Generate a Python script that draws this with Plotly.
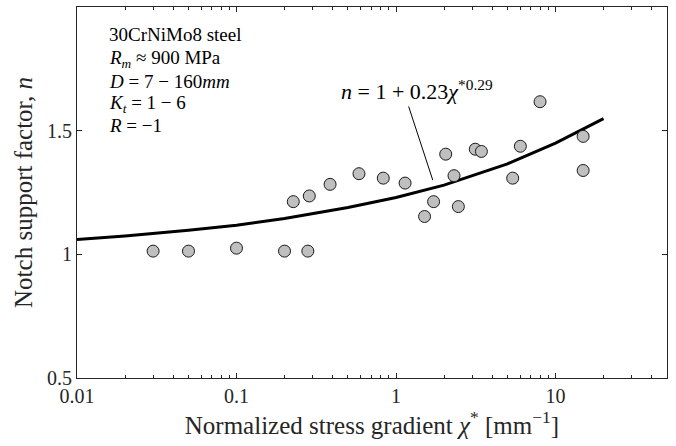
import plotly.graph_objects as go
import math

# Experimental data (normalized stress gradient vs notch support factor)
chi = [0.03, 0.05, 0.10, 0.20, 0.28, 0.227, 0.286, 0.386, 0.586, 0.832, 1.14,
       2.05, 2.31, 3.14, 3.43, 6.02, 5.39, 8.0, 14.9, 14.9, 1.72, 2.46, 1.51]
n_val = [1.013, 1.013, 1.025, 1.013, 1.013, 1.213, 1.236, 1.283, 1.326, 1.308, 1.288,
         1.405, 1.318, 1.425, 1.416, 1.437, 1.308, 1.617, 1.477, 1.339, 1.213, 1.193, 1.153]

# Fitted curve
fit_x = [0.01, 0.02, 0.05, 0.1, 0.2, 0.5, 1, 2, 5, 10, 20]
fit_y = [1.060, 1.074, 1.097, 1.118, 1.145, 1.189, 1.230, 1.280, 1.366, 1.450, 1.549]

x_tickvals = [0.01, 0.1, 1, 10, 50]
x_ticktext = ["0.01", "0.1", "1", "10", "50"]
x_minor = [0.02, 0.03, 0.04, 0.05, 0.06, 0.07, 0.08, 0.09,
           0.2, 0.3, 0.4, 0.5, 0.6, 0.7, 0.8, 0.9,
           2, 3, 4, 5, 6, 7, 8, 9, 20, 30, 40]
y_tickvals = [0.5, 1, 1.5, 2]
y_ticktext = ["0.5", "1", "1.5", "2"]

info_lines = [
    "30CrNiMo8 steel",
    "<i>R</i><sub><i>m</i></sub> ≈ 900 MPa",
    "<i>D</i> = 7 − 160<i>mm</i>",
    "<i>K</i><sub><i>t</i></sub> = 1 − 6",
    "<i>R</i> = −1",
]
info_y_px = [35, 59, 82, 104, 125]

FONT = "'Liberation Serif', 'Times New Roman', 'DejaVu Serif', serif"
AX = "#262626"

fig = go.Figure()
fig.add_trace(go.Scatter(x=fit_x, y=fit_y, mode="lines",
                         line=dict(color="black", width=3), showlegend=False))
fig.add_trace(go.Scatter(x=chi, y=n_val, mode="markers",
                         marker=dict(size=12, color="#bfbfbf",
                                     line=dict(color="#1a1a1a", width=1)),
                         showlegend=False))

# leader line for the formula label
fig.add_shape(type="line", xref="x", yref="y",
              x0=1.20, y0=1.598, x1=1.70, y1=1.300,
              line=dict(color="black", width=1))

fig.add_annotation(x=math.log10(1.35), y=1.665, xref="x", yref="y",
                   text="<i>n</i> = 1 + 0.23<i>χ</i><sup>*0.29</sup>",
                   showarrow=False, font=dict(family=FONT, size=22, color="black"),
                   xanchor="center", yanchor="middle")

plot_top, plot_bot = 7, 378
for txt, py in zip(info_lines, info_y_px):
    fig.add_annotation(x=(107 - 77) / 590, y=(plot_bot - py) / (plot_bot - plot_top),
                       xref="paper", yref="paper", text=txt, showarrow=False,
                       xanchor="left", yanchor="middle",
                       font=dict(family=FONT, size=19, color="black"))

fig.update_xaxes(type="log", range=[-2, 1.69897],
                 tickvals=x_tickvals, ticktext=x_ticktext,
                 ticks="inside", ticklen=5, tickwidth=1, tickcolor=AX,
                 minor=dict(tickvals=x_minor, ticks="inside", ticklen=3,
                            tickwidth=1, tickcolor=AX, showgrid=False),
                 showline=True, linecolor=AX, linewidth=1, mirror="allticks",
                 showgrid=False, zeroline=False,
                 tickfont=dict(family=FONT, size=20, color="#262626"),
                 title=dict(text="Normalized stress gradient <i>χ</i><sup>*</sup> [mm<sup>−1</sup>]",
                            font=dict(family=FONT, size=25, color="#262626"), standoff=6))
fig.update_yaxes(range=[0.5, 2], tickvals=y_tickvals, ticktext=y_ticktext,
                 ticks="inside", ticklen=5, tickwidth=1, tickcolor=AX,
                 showline=True, linecolor=AX, linewidth=1, mirror="allticks",
                 showgrid=False, zeroline=False,
                 tickfont=dict(family=FONT, size=20, color="#262626"),
                 title=dict(text="Notch support factor, <i>n</i>",
                            font=dict(family=FONT, size=25, color="#262626"), standoff=7))

fig.update_layout(width=676, height=446,
                  margin=dict(l=77, r=9, t=7, b=68, pad=0),
                  paper_bgcolor="white", plot_bgcolor="white")

fig.write_html("out.html")
